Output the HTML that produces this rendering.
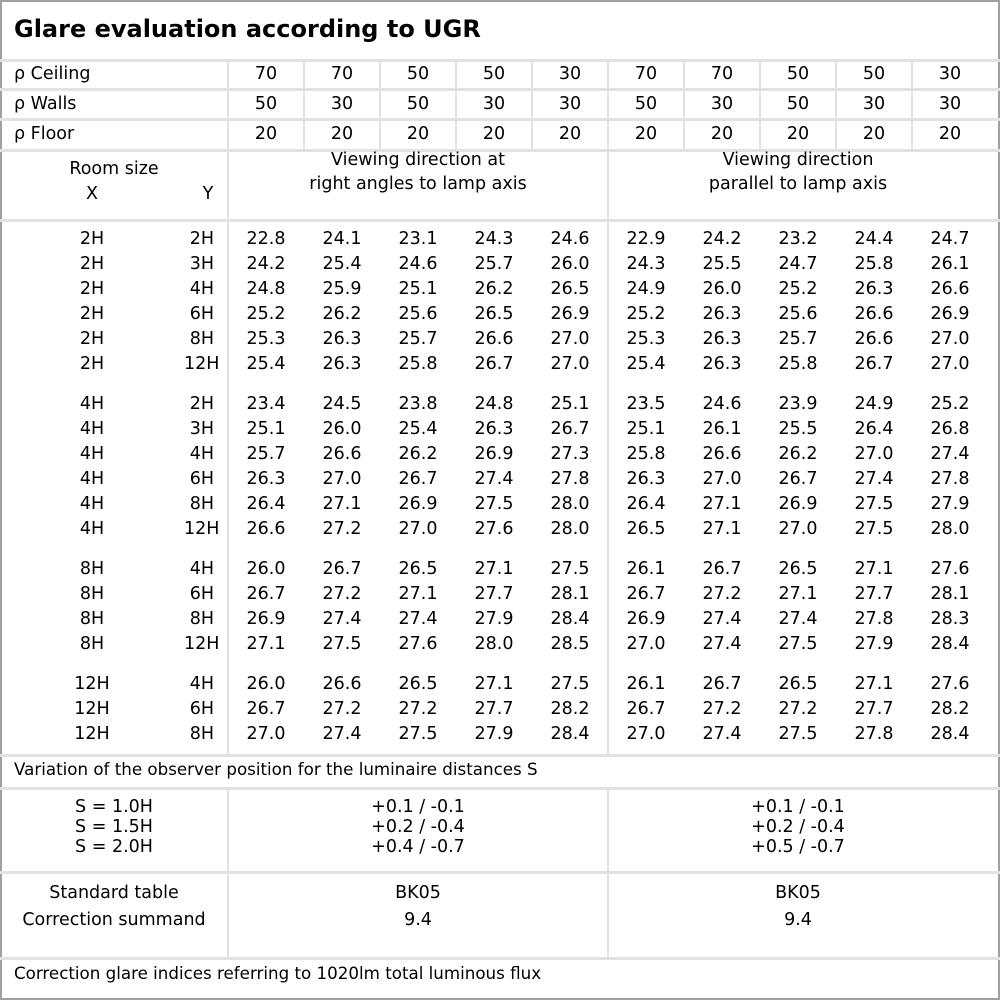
<!DOCTYPE html>
<html><head><meta charset="utf-8"><style>
body{margin:0;background:#fff;}
#c{position:relative;width:1000px;height:1000px;overflow:hidden;font-family:"DejaVu Sans","Liberation Sans",sans-serif;font-size:17.5px;color:#000;}
.h{position:absolute;left:0;width:1000px;height:3px;background:#e2e2e2;}
.v{position:absolute;width:2px;background:#e2e2e2;}
.r{position:absolute;left:0;height:25px;line-height:25px;display:flex;white-space:nowrap;}
.r span{display:block;width:76px;text-align:center;}
.r span.x{width:184px;}
.r span.y{width:30px;text-align:right;padding-right:14px;}
.r span.l{width:228px;text-align:left;padding-left:14px;box-sizing:border-box;}
.t{position:absolute;text-align:center;line-height:20px;}
</style></head><body><div id="c">
<div style="position:absolute;left:0;top:0;width:2px;height:1000px;background:#a0a0a0"></div>
<div style="position:absolute;right:0;top:0;width:2px;height:1000px;background:#a0a0a0"></div>
<div style="position:absolute;left:0;top:0;width:1000px;height:2px;background:#a0a0a0"></div>
<div style="position:absolute;left:0;bottom:0;width:1000px;height:2px;background:#a0a0a0"></div>
<div style="position:absolute;left:14px;top:12px;font-size:24px;font-weight:bold;line-height:34px">Glare evaluation according to UGR</div>
<div class="h" style="top:59px"></div><div class="h" style="top:88px"></div><div class="h" style="top:118px"></div><div class="h" style="top:149px"></div><div class="h" style="top:219px"></div><div class="h" style="top:754px"></div><div class="h" style="top:787px"></div><div class="h" style="top:871px"></div><div class="h" style="top:957px"></div>
<div class="v" style="left:227px;top:60px;height:695px"></div>
<div class="v" style="left:227px;top:788px;height:170px"></div>
<div class="v" style="left:607px;top:150px;height:605px"></div>
<div class="v" style="left:607px;top:788px;height:170px"></div>
<div class="v" style="left:303px;top:60px;height:90px"></div><div class="v" style="left:379px;top:60px;height:90px"></div><div class="v" style="left:455px;top:60px;height:90px"></div><div class="v" style="left:531px;top:60px;height:90px"></div><div class="v" style="left:607px;top:60px;height:90px"></div><div class="v" style="left:683px;top:60px;height:90px"></div><div class="v" style="left:759px;top:60px;height:90px"></div><div class="v" style="left:835px;top:60px;height:90px"></div><div class="v" style="left:911px;top:60px;height:90px"></div>
<div class="r" style="top:62px"><span class="l">ρ Ceiling</span><span>70</span><span>70</span><span>50</span><span>50</span><span>30</span><span>70</span><span>70</span><span>50</span><span>50</span><span>30</span></div>
<div class="r" style="top:92px"><span class="l">ρ Walls</span><span>50</span><span>30</span><span>50</span><span>30</span><span>30</span><span>50</span><span>30</span><span>50</span><span>30</span><span>30</span></div>
<div class="r" style="top:122px"><span class="l">ρ Floor</span><span>20</span><span>20</span><span>20</span><span>20</span><span>20</span><span>20</span><span>20</span><span>20</span><span>20</span><span>20</span></div>
<div class="t" style="left:0;width:228px;top:159px">Room size</div>
<div class="t" style="left:72px;width:40px;top:184px">X</div>
<div class="t" style="left:188px;width:40px;top:184px">Y</div>
<div class="t" style="left:228px;width:380px;top:148px;line-height:24px">Viewing direction at<br>right angles to lamp axis</div>
<div class="t" style="left:608px;width:380px;top:148px;line-height:24px">Viewing direction<br>parallel to lamp axis</div>
<div class="r" style="top:227px"><span class="x">2H</span><span class="y">2H</span><span>22.8</span><span>24.1</span><span>23.1</span><span>24.3</span><span>24.6</span><span>22.9</span><span>24.2</span><span>23.2</span><span>24.4</span><span>24.7</span></div>
<div class="r" style="top:252px"><span class="x">2H</span><span class="y">3H</span><span>24.2</span><span>25.4</span><span>24.6</span><span>25.7</span><span>26.0</span><span>24.3</span><span>25.5</span><span>24.7</span><span>25.8</span><span>26.1</span></div>
<div class="r" style="top:277px"><span class="x">2H</span><span class="y">4H</span><span>24.8</span><span>25.9</span><span>25.1</span><span>26.2</span><span>26.5</span><span>24.9</span><span>26.0</span><span>25.2</span><span>26.3</span><span>26.6</span></div>
<div class="r" style="top:302px"><span class="x">2H</span><span class="y">6H</span><span>25.2</span><span>26.2</span><span>25.6</span><span>26.5</span><span>26.9</span><span>25.2</span><span>26.3</span><span>25.6</span><span>26.6</span><span>26.9</span></div>
<div class="r" style="top:327px"><span class="x">2H</span><span class="y">8H</span><span>25.3</span><span>26.3</span><span>25.7</span><span>26.6</span><span>27.0</span><span>25.3</span><span>26.3</span><span>25.7</span><span>26.6</span><span>27.0</span></div>
<div class="r" style="top:352px"><span class="x">2H</span><span class="y">12H</span><span>25.4</span><span>26.3</span><span>25.8</span><span>26.7</span><span>27.0</span><span>25.4</span><span>26.3</span><span>25.8</span><span>26.7</span><span>27.0</span></div>
<div class="r" style="top:392px"><span class="x">4H</span><span class="y">2H</span><span>23.4</span><span>24.5</span><span>23.8</span><span>24.8</span><span>25.1</span><span>23.5</span><span>24.6</span><span>23.9</span><span>24.9</span><span>25.2</span></div>
<div class="r" style="top:417px"><span class="x">4H</span><span class="y">3H</span><span>25.1</span><span>26.0</span><span>25.4</span><span>26.3</span><span>26.7</span><span>25.1</span><span>26.1</span><span>25.5</span><span>26.4</span><span>26.8</span></div>
<div class="r" style="top:442px"><span class="x">4H</span><span class="y">4H</span><span>25.7</span><span>26.6</span><span>26.2</span><span>26.9</span><span>27.3</span><span>25.8</span><span>26.6</span><span>26.2</span><span>27.0</span><span>27.4</span></div>
<div class="r" style="top:467px"><span class="x">4H</span><span class="y">6H</span><span>26.3</span><span>27.0</span><span>26.7</span><span>27.4</span><span>27.8</span><span>26.3</span><span>27.0</span><span>26.7</span><span>27.4</span><span>27.8</span></div>
<div class="r" style="top:492px"><span class="x">4H</span><span class="y">8H</span><span>26.4</span><span>27.1</span><span>26.9</span><span>27.5</span><span>28.0</span><span>26.4</span><span>27.1</span><span>26.9</span><span>27.5</span><span>27.9</span></div>
<div class="r" style="top:517px"><span class="x">4H</span><span class="y">12H</span><span>26.6</span><span>27.2</span><span>27.0</span><span>27.6</span><span>28.0</span><span>26.5</span><span>27.1</span><span>27.0</span><span>27.5</span><span>28.0</span></div>
<div class="r" style="top:557px"><span class="x">8H</span><span class="y">4H</span><span>26.0</span><span>26.7</span><span>26.5</span><span>27.1</span><span>27.5</span><span>26.1</span><span>26.7</span><span>26.5</span><span>27.1</span><span>27.6</span></div>
<div class="r" style="top:582px"><span class="x">8H</span><span class="y">6H</span><span>26.7</span><span>27.2</span><span>27.1</span><span>27.7</span><span>28.1</span><span>26.7</span><span>27.2</span><span>27.1</span><span>27.7</span><span>28.1</span></div>
<div class="r" style="top:607px"><span class="x">8H</span><span class="y">8H</span><span>26.9</span><span>27.4</span><span>27.4</span><span>27.9</span><span>28.4</span><span>26.9</span><span>27.4</span><span>27.4</span><span>27.8</span><span>28.3</span></div>
<div class="r" style="top:632px"><span class="x">8H</span><span class="y">12H</span><span>27.1</span><span>27.5</span><span>27.6</span><span>28.0</span><span>28.5</span><span>27.0</span><span>27.4</span><span>27.5</span><span>27.9</span><span>28.4</span></div>
<div class="r" style="top:672px"><span class="x">12H</span><span class="y">4H</span><span>26.0</span><span>26.6</span><span>26.5</span><span>27.1</span><span>27.5</span><span>26.1</span><span>26.7</span><span>26.5</span><span>27.1</span><span>27.6</span></div>
<div class="r" style="top:697px"><span class="x">12H</span><span class="y">6H</span><span>26.7</span><span>27.2</span><span>27.2</span><span>27.7</span><span>28.2</span><span>26.7</span><span>27.2</span><span>27.2</span><span>27.7</span><span>28.2</span></div>
<div class="r" style="top:722px"><span class="x">12H</span><span class="y">8H</span><span>27.0</span><span>27.4</span><span>27.5</span><span>27.9</span><span>28.4</span><span>27.0</span><span>27.4</span><span>27.5</span><span>27.8</span><span>28.4</span></div>
<div style="position:absolute;left:14px;top:758px;line-height:22px;font-size:16.7px">Variation of the observer position for the luminaire distances S</div>
<div class="t" style="left:0;width:228px;top:797px">S = 1.0H<br>S = 1.5H<br>S = 2.0H</div>
<div class="t" style="left:228px;width:380px;top:797px">+0.1 / -0.1<br>+0.2 / -0.4<br>+0.4 / -0.7</div>
<div class="t" style="left:608px;width:380px;top:797px">+0.1 / -0.1<br>+0.2 / -0.4<br>+0.5 / -0.7</div>
<div class="t" style="left:0;width:228px;top:880px;line-height:27px">Standard table<br>Correction summand</div>
<div class="t" style="left:228px;width:380px;top:880px;line-height:27px">BK05<br>9.4</div>
<div class="t" style="left:608px;width:380px;top:880px;line-height:27px">BK05<br>9.4</div>
<div style="position:absolute;left:14px;top:962px;line-height:22px;font-size:16.7px">Correction glare indices referring to 1020lm total luminous flux</div>
</div></body></html>
